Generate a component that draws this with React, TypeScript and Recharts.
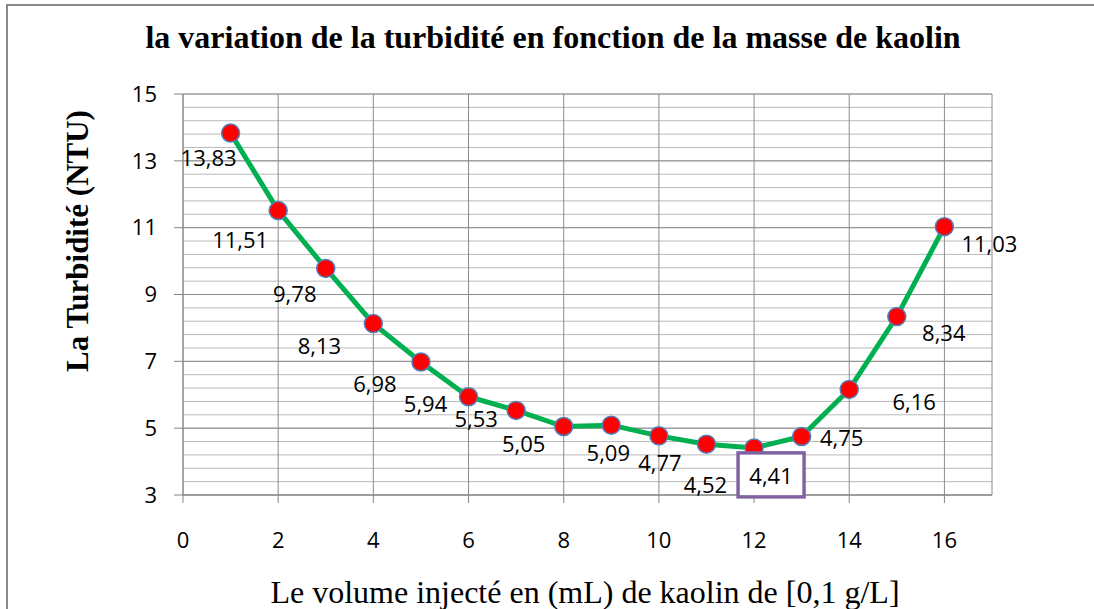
import { LineChart, Line, XAxis, YAxis, CartesianGrid, LabelList } from 'recharts';

const volumes = [1, 2, 3, 4, 5, 6, 7, 8, 9, 10, 11, 12, 13, 14, 15, 16];
const turbidity = [13.83, 11.51, 9.78, 8.13, 6.98, 5.94, 5.53, 5.05, 5.09, 4.77, 4.52, 4.41, 4.75, 6.16, 8.34, 11.03];
const xTicks = [0, 2, 4, 6, 8, 10, 12, 14, 16];
const yTicks = [3, 5, 7, 9, 11, 13, 15];
const minorTicks = Array.from({ length: 31 }, (_, i) => +(3 + i * 0.4).toFixed(1));
const yDomain = [3, 15];

// where each value label sits relative to its point (like Excel placed them)
const labelOffsets = [
  [-22, 24], [-38, 28], [-31, 25], [-54, 21], [-46, 21], [-43, 6], [-40, 8], [-40, 17],
  [-3, 27], [1, 26], [-1, 40], [17, 27], [40, 0], [65, 12], [47, 15], [45, 16],
];
const boxedIndex = 11;

const data = volumes.map((v, i) => ({ v, t: turbidity[i] }));

const tickFont = { fontFamily: 'Open Sans', fontSize: 22, fill: '#000' };

// minor horizontal grid lines every 0.4
const minorLines = (props: any) => {
  const scale = props?.yAxis?.scale;
  if (typeof scale === 'function') return minorTicks.map((t) => scale(t));
  if (scale && typeof scale.map === 'function') return minorTicks.map((t) => scale.map(t));
  const { top, height } = props.offset;
  return minorTicks.map((t) => top + ((yDomain[1] - t) / (yDomain[1] - yDomain[0])) * height);
};

const renderLabel = (props: any) => {
  const { x, y, index, value } = props;
  const [dx, dy] = labelOffsets[index] || [0, 0];
  const cx = x + dx;
  const cy = y + dy;
  const text = Number(value).toFixed(2).replace('.', ',');
  return (
    <g key={index}>
      {index === boxedIndex && (
        <rect x={cx - 33} y={cy - 22} width={66} height={44} fill="#fff" stroke="#8064A2" strokeWidth={3.5} />
      )}
      <text x={cx} y={cy} textAnchor="middle" dominantBaseline="central" fontFamily="Open Sans" fontSize={22} fill="#000">
        {text}
      </text>
    </g>
  );
};

const App = () => {
  return (
    <div style={{ position: 'absolute', left: 0, top: 0, width: 1094, height: 609, overflow: 'hidden', background: '#fff' }}>
      <div style={{ position: 'absolute', left: 6, top: 4, width: 1500, height: 900, borderLeft: '2px solid #8a8a8a', borderTop: '2px solid #8a8a8a' }} />
      <div style={{ position: 'absolute', left: 0, top: 0 }}>
        <LineChart width={1094} height={609} data={data} margin={{ top: 94, right: 102, bottom: 74, left: 123 }}>
          <CartesianGrid vertical={false} horizontalCoordinatesGenerator={minorLines} stroke="#b9b9b9" strokeWidth={1} />
          <CartesianGrid stroke="#8c8c8c" strokeWidth={1} />
          <XAxis
            dataKey="v"
            type="number"
            domain={[0, 17]}
            ticks={xTicks}
            tickSize={8}
            tickMargin={29}
            height={40}
            axisLine={{ stroke: '#868686' }}
            tickLine={{ stroke: '#868686' }}
            tick={tickFont}
          />
          <YAxis
            domain={yDomain}
            ticks={yTicks}
            width={60}
            tickSize={9}
            tickMargin={17}
            axisLine={{ stroke: '#868686' }}
            tickLine={{ stroke: '#868686' }}
            tick={tickFont}
          />
          <Line
            dataKey="t"
            stroke="#00B050"
            strokeWidth={5}
            dot={{ r: 9, fill: '#FF0000', stroke: '#4F81BD', strokeWidth: 1.5 }}
            isAnimationActive={false}
          >
            <LabelList dataKey="t" content={renderLabel} />
          </Line>
        </LineChart>
      </div>
      <svg width={1094} height={609} style={{ position: 'absolute', left: 0, top: 0, pointerEvents: 'none' }}>
        <text x={553} y={48} textAnchor="middle" fontFamily="Liberation Serif" fontWeight="bold" fontSize={32} fill="#000">
          la variation de la turbidité en fonction de la masse de kaolin
        </text>
        <text
          x={0}
          y={0}
          transform="translate(88, 241) rotate(-90)"
          textAnchor="middle"
          fontFamily="Liberation Serif"
          fontWeight="bold"
          fontSize={31}
          fill="#000"
        >
          La Turbidité (NTU)
        </text>
        <text x={585} y={603} textAnchor="middle" fontFamily="Liberation Serif" fontSize={32} fill="#000">
          Le volume injecté en (mL) de kaolin de [0,1 g/L]
        </text>
      </svg>
    </div>
  );
};

export default App;
